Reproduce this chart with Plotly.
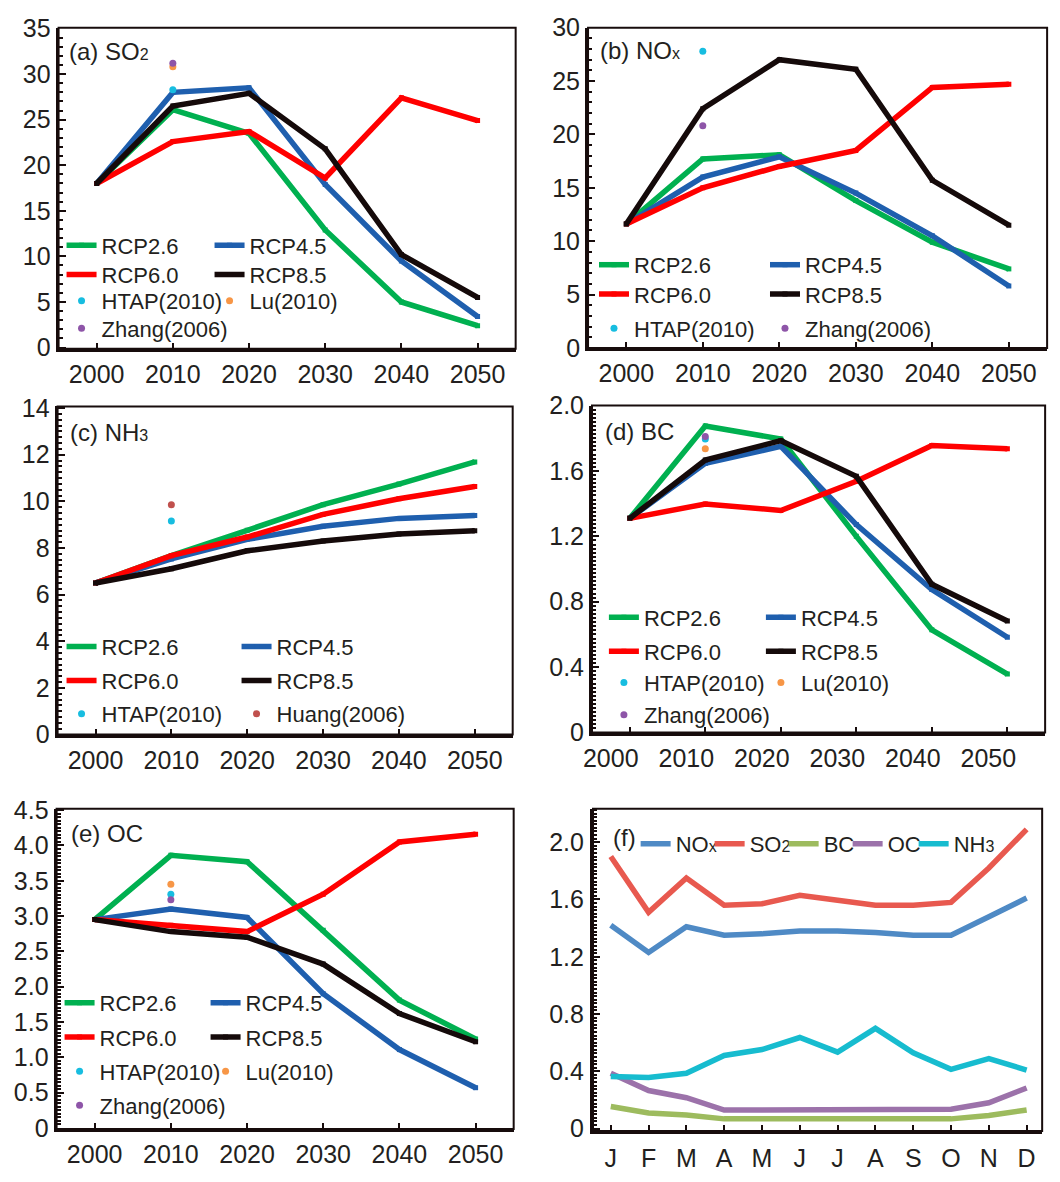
import plotly.graph_objects as go

W, H = 1060, 1182

# ---------------- data ----------------
years = [2000, 2010, 2020, 2030, 2040, 2050]
scenarios = ["RCP2.6", "RCP4.5", "RCP6.0", "RCP8.5"]
ref_year = 2010

so2_rcp26 = [18.0, 26.1, 23.5, 12.9, 5.0, 2.4]
so2_rcp45 = [18.0, 28.0, 28.5, 17.9, 9.5, 3.4]
so2_rcp60 = [18.0, 22.6, 23.7, 18.6, 27.4, 24.9]
so2_rcp85 = [18.0, 26.5, 27.9, 21.8, 10.2, 5.5]
so2_htap, so2_lu, so2_zhang = 28.3, 30.8, 31.2

nox_rcp26 = [11.6, 17.7, 18.1, 13.8, 9.9, 7.4]
nox_rcp45 = [11.6, 16.0, 17.9, 14.5, 10.5, 5.8]
nox_rcp60 = [11.6, 15.0, 17.0, 18.5, 24.4, 24.7]
nox_rcp85 = [11.6, 22.4, 27.0, 26.1, 15.7, 11.5]
nox_htap, nox_zhang = 27.8, 20.8

nh3_rcp26 = [6.5, 7.67, 8.76, 9.86, 10.74, 11.69]
nh3_rcp45 = [6.5, 7.53, 8.37, 8.93, 9.27, 9.39]
nh3_rcp60 = [6.5, 7.67, 8.47, 9.44, 10.11, 10.64]
nh3_rcp85 = [6.5, 7.11, 7.88, 8.30, 8.60, 8.74]
nh3_htap, nh3_huang = 9.16, 9.86

bc_rcp26 = [1.31, 1.875, 1.795, 1.20, 0.628, 0.358]
bc_rcp45 = [1.31, 1.646, 1.75, 1.272, 0.875, 0.583]
bc_rcp60 = [1.31, 1.398, 1.358, 1.537, 1.755, 1.736]
bc_rcp85 = [1.31, 1.666, 1.785, 1.567, 0.907, 0.682]
bc_htap, bc_lu, bc_zhang = 1.795, 1.736, 1.81

oc_rcp26 = [2.95, 3.86, 3.77, 2.80, 1.81, 1.26]
oc_rcp45 = [2.95, 3.10, 2.98, 1.90, 1.11, 0.57]
oc_rcp60 = [2.95, 2.87, 2.78, 3.31, 4.05, 4.16]
oc_rcp85 = [2.95, 2.78, 2.70, 2.32, 1.62, 1.22]
oc_htap, oc_lu, oc_zhang = 3.31, 3.45, 3.23

months = ["J", "F", "M", "A", "M", "J", "J", "A", "S", "O", "N", "D"]
month_idx = list(range(12))
mon_nox = [1.42, 1.23, 1.41, 1.35, 1.36, 1.38, 1.38, 1.37, 1.35, 1.35, 1.48, 1.61]
mon_so2 = [1.90, 1.51, 1.75, 1.56, 1.57, 1.63, 1.595, 1.56, 1.56, 1.58, 1.82, 2.09]
mon_bc = [0.155, 0.109, 0.095, 0.068, 0.068, 0.068, 0.068, 0.068, 0.068, 0.068, 0.091, 0.13]
mon_oc = [0.386, 0.266, 0.216, 0.13, 0.13, 0.13, 0.13, 0.13, 0.13, 0.136, 0.18, 0.284]
mon_nh3 = [0.364, 0.357, 0.386, 0.511, 0.552, 0.636, 0.534, 0.70, 0.53, 0.414, 0.489, 0.409]

# ---------------- style ----------------
FONT = "Liberation Sans, Arial, sans-serif"
INK = "#231f20"
AXIS = "#170c0c"
scen_colors = {"RCP2.6": "#00b050", "RCP4.5": "#1f5fae", "RCP6.0": "#ff0000", "RCP8.5": "#150a0a"}
ref_colors = {"HTAP(2010)": "#17bde0", "Lu(2010)": "#f79646",
              "Zhang(2006)": "#8e55a8", "Huang(2006)": "#c0504d"}
mon_colors = {"NOx": "#4f8ac5", "SO2": "#e8594f", "BC": "#9dbb5e", "OC": "#9c72aa", "NH3": "#17bccf"}


def sm(t, size=16):
    return f'<span style="font-size:{size}px">{t}</span>'


mon_labels = {"NOx": "NO" + sm("x"), "SO2": "SO" + sm("2"), "BC": "BC",
              "OC": "OC", "NH3": "NH" + sm("3")}

panels = [
    dict(box=(50, 14, 511, 343), yrange=[-0.15, 35.1],
         tickvals=[0, 5, 10, 15, 20, 25, 30, 35], ticktext=None, minor=1,
         title="(a) SO" + sm("2"), tpos=(58, 38),
         series=[so2_rcp26, so2_rcp45, so2_rcp60, so2_rcp85],
         refs=[("HTAP(2010)", so2_htap), ("Lu(2010)", so2_lu), ("Zhang(2006)", so2_zhang)],
         rows=[["RCP2.6", "RCP4.5"], ["RCP6.0", "RCP8.5"], ["HTAP(2010)", "Lu(2010)"], ["Zhang(2006)"]],
         lx=53, ly=[237, 267, 294, 322], ew=103, shift=0),
    dict(box=(584, 14, 1047, 342), yrange=[0, 30],
         tickvals=[0, 5, 10, 15, 20, 25, 30], ticktext=None, minor=1,
         title="(b) NO" + sm("x"), tpos=(594, 37),
         series=[nox_rcp26, nox_rcp45, nox_rcp60, nox_rcp85],
         refs=[("HTAP(2010)", nox_htap), ("Zhang(2006)", nox_zhang)],
         rows=[["RCP2.6", "RCP4.5"], ["RCP6.0", "RCP8.5"], ["HTAP(2010)", "Zhang(2006)"]],
         lx=590, ly=[257, 287, 322], ew=126, shift=0),
    dict(box=(49, 402, 508, 738), yrange=[0, 14.07],
         tickvals=[0, 2, 4, 6, 8, 10, 12, 14], ticktext=None, minor=0.25,
         title="(c) NH" + sm("3"), tpos=(60, 429),
         series=[nh3_rcp26, nh3_rcp45, nh3_rcp60, nh3_rcp85],
         refs=[("HTAP(2010)", nh3_htap), ("Huang(2006)", nh3_huang)],
         rows=[["RCP2.6", "RCP4.5"], ["RCP6.0", "RCP8.5"], ["HTAP(2010)", "Huang(2006)"]],
         lx=53, ly=[648, 683, 717], ew=130, shift=0),
    dict(box=(588, 401, 1045, 736), yrange=[0, 2.0],
         tickvals=[0, 0.4, 0.8, 1.2, 1.6, 2.0], ticktext=["0", "0.4", "0.8", "1.2", "1.6", "2.0"],
         minor=0.025,
         title="(d) BC", tpos=(599, 428),
         series=[bc_rcp26, bc_rcp45, bc_rcp60, bc_rcp85],
         refs=[("HTAP(2010)", bc_htap), ("Lu(2010)", bc_lu), ("Zhang(2006)", bc_zhang)],
         rows=[["RCP2.6", "RCP4.5"], ["RCP6.0", "RCP8.5"], ["HTAP(2010)", "Lu(2010)"], ["Zhang(2006)"]],
         lx=600, ly=[618, 653, 685, 718], ew=112, shift=-19),
    dict(box=(48, 814, 509, 1142), yrange=[-0.014, 4.52],
         tickvals=[0, 0.5, 1, 1.5, 2, 2.5, 3, 3.5, 4, 4.5],
         ticktext=["0", "0.5", "1.0", "1.5", "2.0", "2.5", "3.0", "3.5", "4.0", "4.5"], minor=0.05,
         title="(e) OC", tpos=(61, 839),
         series=[oc_rcp26, oc_rcp45, oc_rcp60, oc_rcp85],
         refs=[("HTAP(2010)", oc_htap), ("Lu(2010)", oc_lu), ("Zhang(2006)", oc_zhang)],
         rows=[["RCP2.6", "RCP4.5"], ["RCP6.0", "RCP8.5"], ["HTAP(2010)", "Lu(2010)"], ["Zhang(2006)"]],
         lx=51, ly=[1013, 1048, 1083, 1118], ew=101, shift=0),
]

fig = go.Figure()
layout = dict(width=W, height=H, margin=dict(l=0, r=0, t=0, b=0),
              paper_bgcolor="white", plot_bgcolor="white",
              font=dict(family=FONT, color=INK), showlegend=True)
shapes, annotations = [], []


def dom_x(l, r):
    return [l / W, r / W]


def dom_y(t, b):
    return [1 - b / H, 1 - t / H]


def axis_common():
    return dict(showgrid=False, zeroline=False, showline=True, linewidth=3, linecolor=AXIS,
                mirror=False, ticks="inside", tickcolor=AXIS,
                tickfont=dict(family=FONT, size=25, color=INK))


def minor_ticks(step):
    return dict(tickmode="linear", dtick=step, tick0=0, ticks="inside", ticklen=4,
                tickwidth=1.6, tickcolor=AXIS)


legend_count = [0]


def new_legend(x_px, y_px, size=22):
    legend_count[0] += 1
    key = "legend" if legend_count[0] == 1 else f"legend{legend_count[0]}"
    layout[key] = dict(orientation="h", x=x_px / W, y=1 - y_px / H, xref="paper", yref="paper",
                       xanchor="left", yanchor="middle", bgcolor="rgba(0,0,0,0)",
                       borderwidth=0, font=dict(family=FONT, size=size, color=INK),
                       traceorder="normal")
    return key


for i, p in enumerate(panels):
    n = i + 1
    xa = "x" if n == 1 else f"x{n}"
    ya = "y" if n == 1 else f"y{n}"
    xkey = "xaxis" if n == 1 else f"xaxis{n}"
    ykey = "yaxis" if n == 1 else f"yaxis{n}"
    l, t, r, b = p["box"]
    ax = axis_common()
    ax.update(domain=dom_x(l, r), anchor=ya, range=[1995, 2055], tickvals=years,
              ticklen=6, tickwidth=2, ticklabelstandoff=1)
    if p["shift"]:
        ax["ticklabelshift"] = p["shift"]
    layout[xkey] = ax
    ay = axis_common()
    ay.update(domain=dom_y(t, b), anchor=xa, range=p["yrange"], tickvals=p["tickvals"],
              ticklen=7, tickwidth=2, ticklabelstandoff=0, minor=minor_ticks(p["minor"]))
    if p["ticktext"]:
        ay["ticktext"] = p["ticktext"]
    layout[ykey] = ay
    shapes.append(dict(type="rect", xref=f"{xa} domain", yref=f"{ya} domain",
                       x0=0, x1=1, y0=0, y1=1, line=dict(color=AXIS, width=2), layer="above"))
    annotations.append(dict(text=p["title"], xref="paper", yref="paper",
                            x=p["tpos"][0] / W, y=1 - p["tpos"][1] / H,
                            xanchor="left", yanchor="middle", showarrow=False,
                            font=dict(family=FONT, size=24, color=INK)))

    # legends: one horizontal legend per row
    row_key = {}
    for ri, row in enumerate(p["rows"]):
        key = new_legend(p["lx"], p["ly"][ri])
        for ci, name in enumerate(row):
            row_key[name] = (key, ci < len(row) - 1)

    for name, vals in zip(scenarios, p["series"]):
        key, first = row_key[name]
        tr = go.Scatter(x=years, y=vals, mode="lines+markers", name=name, xaxis=xa, yaxis=ya,
                        line=dict(color=scen_colors[name], width=5.5),
                        marker=dict(symbol="square", size=5, color=scen_colors[name]),
                        legend=key, showlegend=True, hoverinfo="skip")
        if first:
            tr.legendwidth = p["ew"]
        fig.add_trace(tr)
    for name, val in p["refs"]:
        key, first = row_key[name]
        tr = go.Scatter(x=[ref_year], y=[val], mode="markers", name=name, xaxis=xa, yaxis=ya,
                        marker=dict(symbol="circle", size=7, color=ref_colors[name]),
                        legend=key, showlegend=True, hoverinfo="skip")
        if first:
            tr.legendwidth = p["ew"]
        fig.add_trace(tr)

# ---------------- (f) monthly profiles ----------------
l, t, r, b = (589, 814, 1042, 1144)
ax = axis_common()
ax.update(domain=dom_x(l, r), anchor="y6", range=[-0.47, 11.41], tickvals=month_idx,
          ticktext=months, ticklen=6, tickwidth=2, ticklabelstandoff=3)
layout["xaxis6"] = ax
ay = axis_common()
ay.update(domain=dom_y(t, b), anchor="x6", range=[-0.016, 2.234],
          tickvals=[0, 0.4, 0.8, 1.2, 1.6, 2.0], ticktext=["0", "0.4", "0.8", "1.2", "1.6", "2.0"],
          ticklen=7, tickwidth=2, ticklabelstandoff=1, minor=minor_ticks(0.025))
layout["yaxis6"] = ay
shapes.append(dict(type="rect", xref="x6 domain", yref="y6 domain", x0=0, x1=1, y0=0, y1=1,
                   line=dict(color=AXIS, width=2), layer="above"))
annotations.append(dict(text="(f)", xref="paper", yref="paper", x=607 / W, y=1 - 843 / H,
                        xanchor="left", yanchor="middle", showarrow=False,
                        font=dict(family=FONT, size=24, color=INK)))
fkey = new_legend(632, 850)
mon_series = [("NOx", mon_nox), ("SO2", mon_so2), ("BC", mon_bc), ("OC", mon_oc), ("NH3", mon_nh3)]
f_widths = {"NOx": 29, "SO2": 29, "BC": 19, "OC": 21}
for name, vals in mon_series:
    tr = go.Scatter(x=month_idx, y=vals, mode="lines", name=mon_labels[name], xaxis="x6", yaxis="y6",
                    line=dict(color=mon_colors[name], width=5.5), legend=fkey, showlegend=True,
                    hoverinfo="skip")
    if name in f_widths:
        tr.legendwidth = f_widths[name]
    fig.add_trace(tr)

layout["shapes"] = shapes
layout["annotations"] = annotations
fig.update_layout(**layout)
fig.write_html("out.html")
